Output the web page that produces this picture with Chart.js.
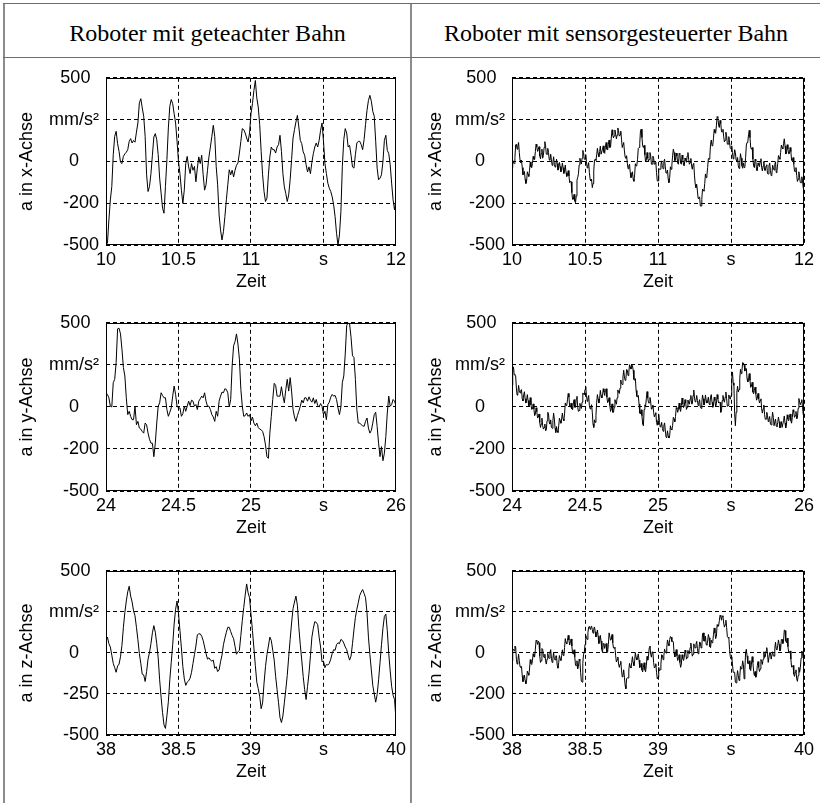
<!DOCTYPE html>
<html>
<head>
<meta charset="utf-8">
<script src="https://cdn.jsdelivr.net/npm/chart.js@4.4.0/dist/chart.umd.min.js"></script>
<style>
  html, body { margin: 0; padding: 0; background: #fff; }
  #page { position: relative; width: 820px; height: 803px; overflow: hidden; background: #fff; }
  .vline { position: absolute; top: 3px; bottom: 0; width: 2px; background: #8c8c8c; }
  .hline { position: absolute; left: 3px; right: 0; height: 1px; background: #6e6e6e; }
  .head { position: absolute; top: 6px; height: 54px; line-height: 54px; text-align: center;
          font-family: "Liberation Serif", "Times New Roman", serif; font-size: 24px; color: #000; }
  canvas { position: absolute; }
</style>
</head>
<body>
<div id="page">
  <div class="vline" style="left:3px"></div>
  <div class="vline" style="left:410px"></div>
  <div class="hline" style="top:3px"></div>
  <div class="hline" style="top:57px"></div>
  <div class="head" style="left:5px;width:405px">Roboter mit geteachter Bahn</div>
  <div class="head" style="left:412px;width:408px">Roboter mit sensorgesteuerter Bahn</div>
</div>
<script>
/* ── sampling: taught path every 10 ms, sensor path every 5 ms ────────── */
const TEACH_STEP = 0.01;
const SENSOR_STEP = 0.005;

/* ── tick labels (MATLAB style: unit replaces one tick) ───────────────── */
const xTicksX = ["10", "10.5", "11", "s", "12"];
const xTicksY = ["24", "24.5", "25", "s", "26"];
const xTicksZ = ["38", "38.5", "39", "s", "40"];
const yTicksA = ["-500", "-200", "0    ", "mm/s\u00b2", "500 \u2009"];
const yTicksZ = ["-500", "-250", "0    ", "mm/s\u00b2", "500 \u2009"];

/* ── acceleration in mm/s², robot with taught path ────────────────────── */
const geteachtX = [
  -480, -490, -350, -230, -150, 40, 150, 180, 106, 60,
  -5, -13, 30, 45, 55, 70, 120, 136, 110, 125,
  115, 175, 230, 350, 375, 320, 270, 150, -80, -180,
  -150, -73, 37, 146, 166, 130, 40, -100, -190, -280,
  -310, -150, 10, 200, 330, 370, 345, 285, 230, 120,
  0, -73, -172, -251, -170, -13, 30, -33, -73, -13,
  -53, -30, -122, -40, 27, -13, 37, -80, -172, -140,
  -53, 27, 86, 150, 216, 150, -30, -140, -320, -410,
  -470, -420, -330, -230, -140, -50, -80, -53, -93, -53,
  -23, -10, 50, 120, 196, 190, 170, 140, 116, 170,
  285, 345, 424, 484, 380, 325, 220, 60, -80, -180,
  -240, -220, -80, 27, 86, 70, 70, 50, 86, 100,
  156, 60, -73, -152, -192, -240, -200, -110, 10, 140,
  190, 236, 275, 206, 126, 106, 57, 37, -20, -63,
  -33, -73, -5, 47, 86, 110, 86, 126, 186, 230,
  120, -13, -73, -130, -160, -180, -212, -260, -330, -430,
  -500, -440, -300, -30, 130, 196, 170, 86, 96, 37,
  -33, -40, 40, 110, 120, 120, 100, 70, 130, 220,
  305, 365, 395, 360, 300, 270, 120, -40, -110, -100,
  -80, 0, 126, 156, 66, 47, -20, -130, -230, -290,
  -220
];
const geteachtY = [
  84, 74, 54, 4, 0, 144, 164, 264, 464, 468,
  434, 344, 234, 184, 54, -46, -26, -56, -76, -76,
  4, -106, -86, -126, -132, -146, -156, -96, -106, -156,
  -192, -216, -216, -296, -216, -96, 4, 24, 84, 68,
  54, 54, -16, -56, -32, -6, 64, 124, 74, 4,
  -6, -6, -56, -40, 4, -26, 4, 34, 8, 40,
  34, 4, 14, -16, 34, 48, 64, 54, 84, 34,
  4, 4, -16, -46, -60, -86, -26, -56, 34, 64,
  88, 84, 108, 104, 84, 0, 44, 244, 364, 388,
  434, 374, 284, 104, 4, -56, -52, -36, -56, -46,
  -84, -60, -96, -112, -96, -122, -132, -136, -146, -176,
  -226, -296, -306, -156, -56, 44, 140, 128, 64, 64,
  64, 120, 64, 24, 104, 164, 94, 174, 94, -16,
  -60, -86, -52, -26, 4, 40, 24, 54, 54, 34,
  60, 40, 28, 54, 20, 44, 8, 0, 20, 4,
  -46, -26, -76, 14, 28, 58, 74, 64, 68, 44,
  -6, -46, 0, 144, 184, 314, 484, 500, 494, 414,
  304, 294, 164, -16, -96, -96, -106, -112, -116, -86,
  -66, -126, -156, -140, -96, -46, -32, -116, -216, -296,
  -236, -320, -276, -176, -36, 64, 4, 14, 44, 34,
  8
];
const geteachtZ = [
  70, 96, 56, 36, -14, -64, -90, -118, -80, -68,
  -24, 46, 156, 246, 316, 372, 406, 346, 310, 256,
  226, 156, 80, -4, -64, -130, -134, -174, -114, -38,
  2, 56, 122, 166, 126, 56, -30, -164, -270, -364,
  -438, -460, -384, -298, -164, -58, 50, 176, 266, 316,
  242, 136, 30, -84, -158, -198, -178, -170, -154, -118,
  -64, -10, 42, 110, 116, 116, 102, 76, 36, -4,
  -38, -30, -44, -50, -44, -94, -84, -114, -104, -54,
  -14, 50, 90, 126, 156, 156, 130, 106, 86, 40,
  -8, 6, 16, 106, 196, 276, 352, 420, 366, 336,
  236, 136, 30, -78, -178, -218, -264, -340, -304, -184,
  -84, -10, 42, 96, 76, 16, -44, -144, -224, -304,
  -394, -424, -384, -304, -224, -138, -24, 82, 182, 270,
  310, 346, 290, 156, 50, -44, -144, -224, -284, -204,
  -124, -18, 96, 150, 190, 186, 172, 96, 36, -54,
  -50, -90, -70, -74, -64, -38, -4, 20, 16, 50,
  62, 56, 82, 76, 60, 36, 20, -14, -44, -20,
  56, 140, 216, 266, 306, 350, 370, 386, 362, 336,
  246, 96, -10, -104, -198, -250, -300, -254, -164, -58,
  50, 150, 222, 236, 136, -4, -110, -204, -258, -284,
  -404
];

/* ── acceleration in mm/s², robot with sensor-guided path ─────────────── */
const sensorX = [
  -37, 6, -10, -13, 23, 98, 103, 73, 93, 113,
  53, 8, -7, 8, -37, -80, -73, -60, -107, -132,
  -117, -62, -77, -90, -53, -3, -33, -38, -13, 30,
  13, 11, 59, 103, 87, 60, 73, 88, 33, 15,
  47, 73, 19, 36, 83, 118, 93, 43, 43, 78,
  53, 10, 7, 43, 9, -24, -7, 28, -17, -34,
  -21, 13, -13, -52, -41, -6, -31, -62, -53, -10,
  -37, -72, -57, -22, -67, -90, -83, -55, -87, -127,
  -117, -122, -187, -227, -227, -197, -237, -247, -207, -112,
  -97, -74, -21, 19, -1, -16, 19, 66, 53, 13,
  13, 41, -1, -39, -27, -7, -67, -107, -117, -107,
  -157, -132, -57, 8, 13, 6, 39, 78, 47, 28,
  59, 91, 43, 43, 73, 93, 53, 48, 93, 113,
  73, 68, 103, 128, 83, 86, 139, 189, 159, 141,
  153, 188, 163, 135, 157, 200, 183, 151, 159, 181,
  133, 83, 83, 113, 63, 26, 19, 34, -11, -44,
  -27, -17, -67, -97, -87, -62, -107, -119, -81, -14,
  -27, -22, 13, 78, 83, 108, 183, 193, 143, 93,
  83, 96, 39, -2, 7, 53, 19, 1, 13, 53,
  33, -17, -17, 31, 19, -17, -13, -5, -67, -117,
  -117, -42, -47, -47, -17, 3, -37, -44, -1, 13,
  -33, -70, -67, -52, -107, -127, -97, -32, -47, -22,
  33, 73, 53, 5, 7, 50, 33, -12, -17, 48,
  43, -12, -17, 38, 13, -22, -27, 20, 7, -5,
  33, 53, 13, -17, -7, 18, -27, -47, -17, -12,
  -87, -137, -157, -137, -177, -222, -217, -212, -267, -267,
  -227, -165, -173, -178, -133, -75, -97, -82, -37, 18,
  13, 33, 103, 128, 93, 96, 139, 191, 173, 168,
  213, 268, 263, 218, 203, 245, 227, 177, 177, 192,
  147, 117, 127, 175, 153, 103, 103, 148, 113, 78,
  73, 93, 53, 15, 27, 70, 53, 8, 3, 23,
  -27, -42, -7, 46, 19, -26, -41, -9, -37, -32,
  23, 98, 113, 116, 159, 186, 143, 83, 73, 83,
  13, -27, -37, 13, 3, -52, -57, -9, -21, -31,
  -1, 16, -37, -57, -27, 0, -53, -55, -27, -20,
  -73, -75, -27, -10, -53, -85, -77, -22, -37, -52,
  -17, -2, -67, -55, -13, 35, 23, 13, 53, 98,
  83, 75, 107, 135, 93, 45, 47, 100, 73, 45,
  47, 83, 59, 6, 3, 23, -17, -59, -61, -37,
  -83, -120, -107, -62, -97, -127, -127, -92, -117, -160,
  -153
];
const sensorY = [
  128, 213, 238, 193, 188, 185, 112, 70, 78, 128,
  98, 83, 98, 103, 48, 35, 72, 90, 48, 23,
  38, 73, 38, 3, 18, 55, 12, -15, -12, 18,
  -12, -52, -42, -5, -28, -65, -62, -42, -92, -122,
  -102, -67, -112, -132, -122, -102, -142, -137, -82, -32,
  -42, -92, -102, -77, -122, -127, -82, -37, -72, -127,
  -152, -117, -142, -152, -112, -67, -82, -97, -72, -37,
  -72, -82, -42, 23, 8, 10, 42, 80, 58, 3,
  -2, 23, -12, -17, 18, 43, -2, -2, 48, 63,
  -2, -27, -22, 21, 4, -9, 28, 83, 78, 71,
  104, 121, 68, 33, 48, 68, 8, -12, -2, 13,
  -32, -102, -122, -77, -92, -52, 28, 73, 48, 23,
  48, 98, 68, 53, 68, 108, 88, 68, 98, 108,
  58, 25, 32, 55, 8, -27, -12, 18, -32, -32,
  -2, 43, 28, 16, 54, 101, 88, 80, 112, 160,
  138, 133, 178, 218, 178, 158, 168, 223, 218, 186,
  204, 251, 238, 225, 252, 245, 218, 163, 158, 168,
  98, 63, 58, 68, 18, -37, -42, -17, -52, -102,
  -112, -15, 12, 5, 48, 91, 54, 24, 24, 56,
  28, -14, -6, 11, -32, -59, -46, -34, -92, -109,
  -76, -44, -92, -119, -116, -92, -128, -145, -112, -95,
  -138, -180, -182, -142, -172, -185, -172, -112, -132, -137,
  -112, -62, -72, -89, -56, -4, -12, -32, -12, 23,
  -12, -27, 8, 53, 18, -4, 4, 43, 22, -15,
  -2, 41, 24, 16, 48, 68, 18, 18, 68, 100,
  52, 30, 38, 68, 38, 8, 28, 43, -2, -9,
  24, 71, 48, 11, 24, 71, 38, 23, 38, 58,
  18, 13, 58, 73, 28, -2, 8, 58, 38, 3,
  18, 73, 48, 23, 28, 28, -32, -22, 38, 68,
  38, 28, 58, 88, 48, 3, 8, 71, 54, 46,
  68, 168, 208, 143, 128, -40, -112, -32, 88, 123,
  88, 103, 168, 223, 198, 216, 264, 261, 248, 213,
  228, 228, 168, 148, 168, 198, 158, 116, 124, 146,
  88, 78, 98, 118, 78, 40, 52, 80, 48, 23,
  38, 48, -12, -37, -12, 11, -46, -74, -72, -32,
  -52, -87, -72, -57, -102, -107, -72, -32, -62, -112,
  -112, -72, -112, -117, -92, -60, -88, -125, -112, -87,
  -122, -122, -82, -54, -96, -124, -102, -47, -72, -82,
  -62, -42, -82, -97, -62, -17, -32, -62, -52, -27,
  -72, -65, -8, 50, 28, 13, 28, 43, -2, -47,
  -42
];
const sensorZ = [
  -48, 17, 22, 12, 42, 37, -38, -68, -48, -8,
  -48, -83, -88, -83, -138, -175, -162, -135, -168, -188,
  -168, -111, -124, -136, -98, -41, -64, -71, -48, -5,
  -22, -25, 22, 77, 72, 52, 72, 62, -18, -58,
  -48, 27, 22, -18, -28, -8, -48, -68, -38, -3,
  -28, -33, 2, 20, -32, -58, -34, 4, -38, -43,
  -18, -18, -78, -93, -58, -16, -34, -46, -18, 19,
  -14, -16, 32, 87, 62, 54, 76, 107, 78, 48,
  68, 85, 42, -3, -8, 19, -24, -76, -78, -48,
  -98, -83, -38, -48, -118, -173, -178, -63, -8, 2,
  52, 107, 92, 82, 122, 157, 162, 144, 156, 164,
  142, 120, 148, 158, 128, 97, 106, 139, 102, 57,
  62, 107, 72, 22, 2, 57, 52, 27, 52, 57,
  2, 7, 52, 122, 122, 77, 82, 112, 62, 30,
  28, 35, -18, -55, -42, -25, -68, -88, -68, -51,
  -104, -146, -138, -103, -148, -198, -218, -155, -152, -153,
  -104, -64, -84, -91, -58, -23, -58, -78, -48, 2,
  -28, -43, -28, -6, -44, -89, -84, -64, -104, -116,
  -88, -60, -102, -115, -78, -21, -44, -21, 32, 42,
  -8, -26, 6, 4, -58, -91, -84, -66, -118, -158,
  -148, -88, -108, -103, -68, -11, -14, -41, -18, 24,
  6, -1, 32, 79, 56, 44, 82, 99, 96, 69,
  72, 67, 2, -25, -2, 20, -18, -46, -34, -11,
  -58, -88, -68, -11, -34, -46, -28, 17, 2, -38,
  -28, 15, -2, -5, 32, 60, 18, -20, -8, 55,
  38, 30, 52, 70, 28, -5, 12, 67, 62, 30,
  38, 115, 122, 72, 72, 102, 52, 47, 72, 112,
  92, 37, 32, 77, 62, 67, 112, 152, 122, 87,
  102, 172, 162, 164, 196, 229, 222, 199, 226, 220,
  182, 157, 172, 199, 156, 99, 92, 97, 22, -23,
  -38, -23, -68, -118, -118, -118, -178, -183, -148, -108,
  -138, -168, -148, -83, -98, -88, -48, -73, -158, -103,
  2, 22, -18, -63, -68, -48, -98, -108, -68, -23,
  -58, -113, -138, -113, -148, -138, -78, -53, -88, -113,
  -98, -40, -52, -70, -38, 7, -28, -23, 12, 32,
  -8, -58, -58, 2, 2, -38, -38, 7, -18, -20,
  28, 65, 22, 19, 46, 79, 52, 12, 22, 82,
  82, 57, 72, 139, 136, 74, 62, 90, 38, 5,
  2, 12, -38, -86, -84, -76, -128, -143, -118, -103,
  -158, -173, -138, -88, -118, -90, -32, 12, -4, -31,
  -8
];

/* ── panel grid ───────────────────────────────────────────────────────── */
const PANELS = [
  { values: geteachtX, step: TEACH_STEP,  t0: 10, xt: xTicksX, yt: yTicksA, title: "a in x-Achse", col: 0, row: 0 },
  { values: sensorX,   step: SENSOR_STEP, t0: 10, xt: xTicksX, yt: yTicksA, title: "a in x-Achse", col: 1, row: 0 },
  { values: geteachtY, step: TEACH_STEP,  t0: 24, xt: xTicksY, yt: yTicksA, title: "a in y-Achse", col: 0, row: 1 },
  { values: sensorY,   step: SENSOR_STEP, t0: 24, xt: xTicksY, yt: yTicksA, title: "a in y-Achse", col: 1, row: 1 },
  { values: geteachtZ, step: TEACH_STEP,  t0: 38, xt: xTicksZ, yt: yTicksZ, title: "a in z-Achse", col: 0, row: 2 },
  { values: sensorZ,   step: SENSOR_STEP, t0: 38, xt: xTicksZ, yt: yTicksA, title: "a in z-Achse", col: 1, row: 2 },
];
const COLS = [
  { left: 0,   axisW: 106, padR: 12, titlePad: 16 },
  { left: 410, axisW: 102, padR: 16, titlePad: 15 },
];
const ROWS = [
  { top: 74,  h: 171 },
  { top: 319, h: 172 },
  { top: 567, h: 168 },
];
const PAD_TOP = 14, X_AXIS_H = 52;
const FONT = { family: "'Liberation Sans', Arial, sans-serif", size: 18 };

Chart.defaults.font.family = FONT.family;
Chart.defaults.color = "#000";

/* plot frame drawn on top, like MATLAB's box on */
const boxPlugin = {
  id: "box",
  afterDatasetsDraw(chart) {
    const { ctx, chartArea: a } = chart;
    ctx.save();
    ctx.strokeStyle = "#000";
    ctx.lineWidth = 1;
    ctx.setLineDash([]);
    ctx.strokeRect(Math.round(a.left) + 0.5, Math.round(a.top) + 0.5,
                   Math.round(a.right - a.left) - 1, Math.round(a.bottom - a.top) - 1);
    ctx.restore();
  },
};

const page = document.getElementById("page");

function buildPanel(p) {
  const c = COLS[p.col], r = ROWS[p.row];
  const W = 410, H = r.h + PAD_TOP + X_AXIS_H;
  const cv = document.createElement("canvas");
  cv.width = W; cv.height = H;
  cv.style.left = c.left + "px";
  cv.style.top = (r.top - PAD_TOP) + "px";
  cv.style.width = W + "px";
  cv.style.height = H + "px";
  page.appendChild(cv);

  new Chart(cv, {
    type: "line",
    data: {
      datasets: [{
        data: p.values.map((v, i) => ({ x: p.t0 + i * p.step, y: v })),
        borderColor: "#000", borderWidth: 1, pointRadius: 0, tension: 0, fill: false,
      }],
    },
    options: {
      responsive: false, animation: false, events: [],
      layout: { padding: { top: PAD_TOP, right: c.padR, left: 0, bottom: 0 } },
      plugins: { legend: { display: false }, tooltip: { enabled: false } },
      scales: {
        x: {
          type: "linear", min: p.t0, max: p.t0 + 2,
          ticks: { stepSize: 0.5, autoSkip: false, maxRotation: 0, padding: 4,
                   font: FONT, color: "#000", callback: (v, i) => p.xt[i] },
          grid: { color: "#000", lineWidth: 1, drawTicks: false },
          border: { display: false, dash: [4, 3] },
          title: { display: true, text: "Zeit", font: FONT, color: "#000",
                   padding: { top: 0, bottom: 4 } },
          afterFit: (s) => { s.height = X_AXIS_H; },
        },
        y: {
          min: -500, max: 500,
          ticks: { stepSize: 250, autoSkip: false, padding: 7,
                   font: FONT, color: "#000", callback: (v, i) => p.yt[i] },
          grid: { color: "#000", lineWidth: 1, drawTicks: false },
          border: { display: false, dash: [4, 3] },
          title: { display: true, text: p.title, font: FONT, color: "#000",
                   padding: { top: c.titlePad, bottom: 0 } },
          afterFit: (s) => { s.width = c.axisW; },
        },
      },
    },
    plugins: [boxPlugin],
  });
}

PANELS.forEach(buildPanel);
</script>
</body>
</html>
